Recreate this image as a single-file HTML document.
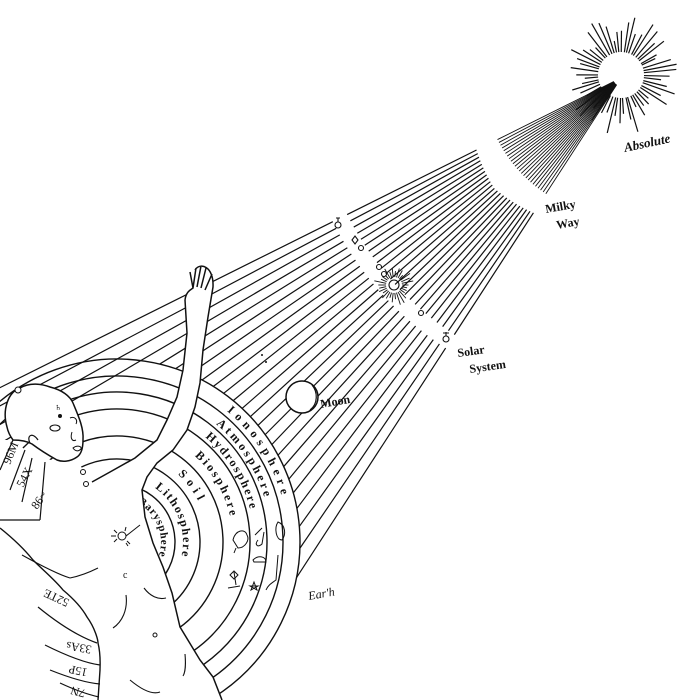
<!DOCTYPE html>
<html><head><meta charset="utf-8"><style>
html,body{margin:0;padding:0;background:#fff;}
svg{display:block;}
text{font-family:"Liberation Serif",serif;fill:#111;}
</style></head><body>
<svg id="s" width="700" height="700" viewBox="0 0 700 700" xmlns="http://www.w3.org/2000/svg">
<g id="rays" stroke="#111" stroke-width="1.3" fill="none"></g>
<g id="arcs" stroke="#111" stroke-width="1.4" fill="none"></g>
<g id="lbl"></g>
<!-- body -->
<path d="M195,270 C200,262 214,266 213,287 L208,317 203,350 200,383 195,407 187,430 173,450 157,463 147,477 142,490 145,517 153,543 163,567 172,593 180,627 200,660 213,677 222,700 L100,700 100,670 98,643 87,617 63,590 33,560 0,548 L0,440 13,440 30,455 60,462 77,460 88,478 110,472 135,458 157,440 167,420 177,397 183,370 187,333 185,300 Z" fill="#fff" stroke="none"/>
<path d="M185,300 L187,333 183,370 177,397 167,420 157,440 135,458 110,472 92,482" fill="none" stroke="#111" stroke-width="1.5"/>
<path d="M185,300 C186,292 190,290 193,288 L190,272 M193,288 L196,268 M197,287 L201,266 M201,288 L206,268 M205,290 L212,274 M195,270 C200,262 214,266 213,287 L208,317 203,350 200,383 195,407 187,430 173,450 157,463 147,477 142,490 145,517 153,543 163,567 172,593 180,627 200,660 213,677 222,700" fill="none" stroke="#111" stroke-width="1.5"/>
<path d="M0,528 C15,540 25,550 33,560 C45,572 55,580 63,590 C75,600 82,608 87,617 C95,628 98,640 98,643 C101,655 100,665 100,670 L98,700" fill="none" stroke="#111" stroke-width="1.4"/>
<!-- head -->
<path d="M7,427 C2,410 8,392 20,388 C30,382 42,384 50,387 C62,390 70,396 73,403 C78,415 84,428 83,440 C83,450 80,455 77,457 C70,462 62,462 57,460 C48,455 40,450 32,444 C25,440 15,440 13,440 C10,436 8,432 7,427 Z" fill="#fff" stroke="#111" stroke-width="1.5"/>
<path d="M30,443 C26,435 33,432 38,440" fill="none" stroke="#111" stroke-width="1.2"/>
<ellipse cx="55" cy="428" rx="5" ry="3" fill="none" stroke="#111" stroke-width="1.1"/>
<path d="M70,418 C75,416 78,420 76,424" fill="none" stroke="#111"/>
<path d="M72,432 C70,438 72,442 76,440" fill="none" stroke="#111"/>
<path d="M73,448 C77,445 82,446 81,449 C78,452 75,451 73,448Z" fill="none" stroke="#111"/>
<circle cx="60" cy="416" r="2" fill="#111"/>
<text x="55" y="410" font-size="7">♄</text>
<circle cx="83" cy="472" r="2.5" fill="none" stroke="#111"/><circle cx="86" cy="484" r="2.5" fill="none" stroke="#111"/>
<circle cx="18" cy="390" r="3" fill="#fff" stroke="#111"/>
<!-- hair panel -->
<path d="M13,440 L0,470 M25,450 L10,490 M32,458 L22,502 M45,462 L40,520 M0,520 L40,520" fill="none" stroke="#111" stroke-width="1.2"/>
<text font-size="12" transform="translate(10,465) rotate(-68)">96M</text>
<text font-size="12" transform="translate(23,488) rotate(-62)">54X</text>
<text font-size="12" transform="translate(37,510) rotate(-55)">86~</text>
<!-- lower left bands -->
<path d="M38,607 C60,625 80,637 97,643 M45,645 C65,655 85,663 100,665 M50,670 C70,678 88,683 100,684 M60,683 C75,690 90,695 99,697" fill="none" stroke="#111" stroke-width="1.2"/>
<text font-size="12" transform="translate(70,600) rotate(205)">52TE</text>
<text font-size="12" transform="translate(92,646) rotate(190)">33As</text>
<text font-size="12" transform="translate(88,669) rotate(192)">15P</text>
<text font-size="12" transform="translate(86,690) rotate(195)">7N</text>
<!-- torso details -->
<path d="M22,555 C40,565 60,575 70,578 M70,578 C80,576 90,572 98,568 M144,588 C150,596 158,600 166,598 M126,595 C128,610 122,622 113,628 M130,680 C142,690 152,695 160,692 M185,654 C186,665 185,673 183,676" fill="none" stroke="#111" stroke-width="1.1"/>
<text x="123" y="578" font-size="10">c</text>
<circle cx="155" cy="635" r="2" fill="none" stroke="#111"/>
<circle cx="122" cy="536" r="4" fill="none" stroke="#111"/>
<path d="M114,530 L117,533 M111,536 L116,536 M114,542 L117,539 M127,541 L130,544 M126,543 L128,546 M125,531 L126,527 M126,536 L140,525" stroke="#111" fill="none"/>
<!-- animals (rough) -->
<g fill="none" stroke="#111" stroke-width="1">
<path d="M233,540 C235,530 245,528 247,535 C250,540 245,548 238,548 Z M236,548 L234,553"/>
<path d="M255,535 L262,528 M258,540 C254,545 258,548 262,544 L264,532"/>
<path d="M278,522 C274,528 276,540 282,540 C286,535 286,525 278,522Z"/>
<path d="M253,560 C258,555 266,556 266,562 L254,562Z"/>
<path d="M278,555 L276,580 C272,583 268,585 266,590"/>
<path d="M234,572 L236,585 M230,575 l4,-4 l4,4 l-4,4Z M228,588 L240,586"/>
<path d="M254,582 l3,8 l-7,-4 h8 l-7,4Z"/>
</g>
<!-- Moon -->
<circle cx="302" cy="397" r="16" fill="#fff" stroke="#111" stroke-width="1.5"/>
<path d="M312,385 C318,392 318,404 310,410" fill="none" stroke="#111" stroke-width="1.2"/>
<!-- sun -->
<g id="sun" stroke="#111" stroke-width="1.2"></g>
<!-- solar system -->
<g fill="none" stroke="#111" stroke-width="1.1">
<circle cx="338" cy="225" r="3"/><path d="M338,222 L338,218 M336,218 L340,218"/>
<path d="M352,240 l3,-4 l3,4 l-3,4Z"/><circle cx="361" cy="248" r="2.5"/>
<circle cx="379" cy="267" r="2.5"/><circle cx="384" cy="274" r="2.5"/>
<circle cx="394" cy="285" r="5"/>
<circle cx="421" cy="313" r="2.5"/>
<circle cx="446" cy="339" r="3"/><path d="M446,336 L446,332 M443,333 L449,333"/>
</g>
<g id="ssun" stroke="#111" stroke-width="0.9"></g>
<circle cx="262" cy="355" r="1" fill="#111"/><circle cx="266" cy="362" r="1" fill="#111"/>
<!-- labels -->
<text font-size="13" font-weight="bold" font-style="italic" transform="translate(625,152) rotate(-12)">Absolute</text>
<text font-size="12" font-weight="bold" transform="translate(546,213) rotate(-10)">Milky</text>
<text font-size="12" font-weight="bold" transform="translate(557,229) rotate(-10)">Way</text>
<text font-size="12" font-weight="bold" transform="translate(458,357) rotate(-8)">Solar</text>
<text font-size="12" font-weight="bold" transform="translate(470,373) rotate(-8)">System</text>
<text font-size="12" font-weight="bold" transform="translate(321,408) rotate(-10)">Moon</text>
<text font-size="12" font-style="italic" transform="translate(309,600) rotate(-10)">Ear'h</text>
</svg>
<script>
var NS="http://www.w3.org/2000/svg";
function el(t,a,p){var e=document.createElementNS(NS,t);for(var k in a)e.setAttribute(k,a[k]);p.appendChild(e);return e;}
var ax=621,ay=78,rays=document.getElementById('rays');
var N=24,a0=123,a1=153.5;
var cx=117,cy=542,R=183;
for(var i=0;i<N;i++){
 var a=(a0+(a1-a0)*i/(N-1))*Math.PI/180,c=Math.cos(a),s=Math.sin(a);
 var segs=[[8,138],[162,306],[322,720]];
 var dx=ax-cx,dy=ay-cy,b=dx*c+dy*s,q=dx*dx+dy*dy-R*R,d=b*b-q;
 if(d>0){var t=-b-Math.sqrt(d);var px=ax+t*c,py=ay+t*s;var ang=Math.atan2(py-cy,px-cx)*180/Math.PI;if(ang>-78&&ang<95)segs[2][1]=t;}
 segs.forEach(function(g,j){
  var r1=g[0],r2=g[1];
  if(j==1){r1+=Math.abs(i-N/2)*-0.6+6;}
  el('line',{x1:ax+r1*c,y1:ay+r1*s,x2:ax+r2*c,y2:ay+r2*s,'stroke-width':j==0?0.9:1.2},rays);
 });
}
var arcs=document.getElementById('arcs');
function P(r,d){var a=d*Math.PI/180;return [cx+r*Math.cos(a),cy+r*Math.sin(a)];}
var p1=P(R,-80),p2=P(R,95);
el('path',{d:'M'+cx+','+cy+' L'+p1+' A'+R+','+R+' 0 0 1 '+p2+' Z',fill:'#fff',stroke:'none'},rays);
[58,83,106,133,150,166,183].forEach(function(r){
 var s=P(r,-135),e=P(r,80);
 el('path',{d:'M'+s+' A'+r+','+r+' 0 1 1 '+e},arcs);
});
var lbl=document.getElementById('lbl');
var L=[["Ionosphere",175,-50,-16],["Atmosphere",158,-50,-17],["Hydrosphere",141,-50,-14],["Biosphere",120,-48,-13],["Soil",95,-48,-27],["Lithosphere",70,-55,12],["Barysphere",48,-62,18]];
L.forEach(function(l,k){
 var rb=l[1]-4,s=P(rb,l[2]),e=P(rb,l[3]);
 el('path',{id:'lp'+k,d:'M'+s+' A'+rb+','+rb+' 0 0 1 '+e,fill:'none',stroke:'none'},lbl);
 var t=el('text',{'font-size':k==6?11:12,'font-weight':'bold'},lbl);
 var tp=el('textPath',{href:'#lp'+k,textLength:(rb*(l[3]-l[2])*Math.PI/180).toFixed(1),lengthAdjust:'spacing'},t);
 tp.textContent=l[0];
});
var sun=document.getElementById('sun');
var seed=7;function rnd(){seed=(seed*9301+49297)%233280;return seed/233280;}
for(var i=0;i<56;i++){var a=i/56*2*Math.PI+rnd()*0.05;var r1=23,r2=34+rnd()*26;
 el('line',{x1:ax+r1*Math.cos(a),y1:ay-3+r1*Math.sin(a),x2:ax+r2*Math.cos(a),y2:ay-3+r2*Math.sin(a)},sun);}
var ss=document.getElementById('ssun');
for(var i=0;i<30;i++){var a=i/30*2*Math.PI;var r1=8,r2=13+rnd()*9;
 el('line',{x1:394+r1*Math.cos(a),y1:285+r1*Math.sin(a),x2:394+r2*Math.cos(a),y2:285+r2*Math.sin(a)},ss);}
</script>
</body></html>
